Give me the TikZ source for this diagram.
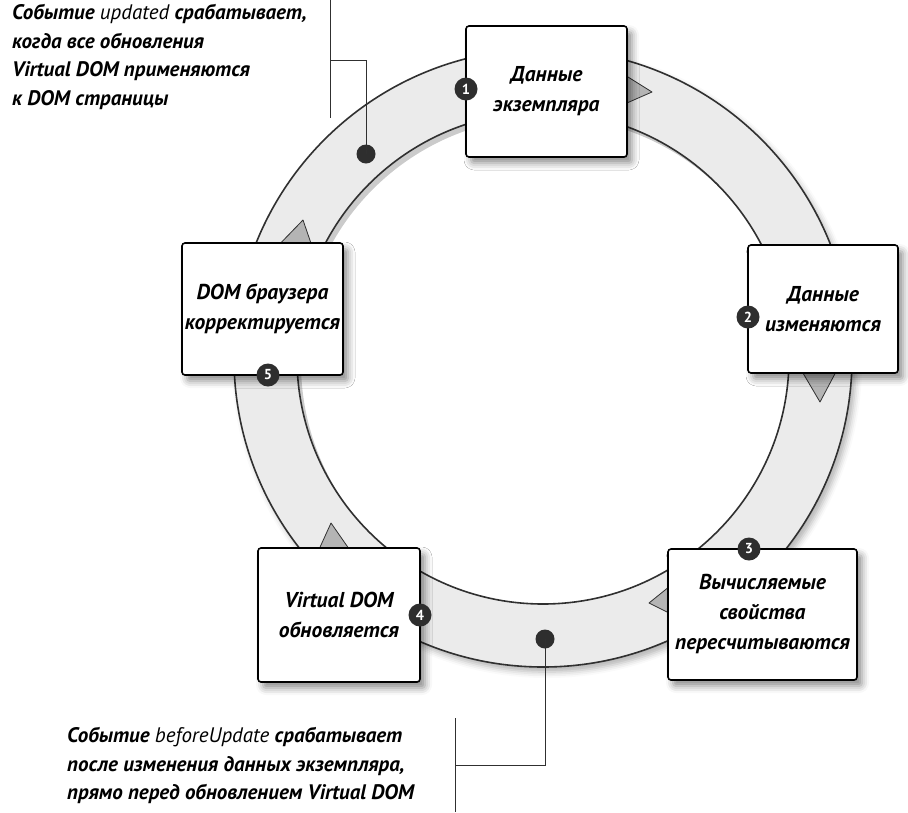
\documentclass[tikz,border=0pt]{standalone}
\usepackage{fontspec}
\setmainfont{PT Sans}
\usetikzlibrary{shadows.blur}

\definecolor{ringfill}{HTML}{EBEBEB}
\definecolor{ringline}{HTML}{303030}
\definecolor{tipfill}{HTML}{B4B4B4}
\definecolor{badgefill}{HTML}{2E2E2E}

% hook names are set lighter than the rest of a note
\newcommand{\hookword}[1]{{\mdseries\itshape #1}}

\tikzset{
  stagebox/.style={draw=black, line width=1.6pt, fill=white, rounded corners=3pt,
    align=center, inner sep=0pt,
    font=\bfseries\itshape\fontsize{21.5}{30}\selectfont,
    blur shadow={shadow xshift=5pt, shadow yshift=-6pt, shadow blur radius=7pt, shadow opacity=45}},
  badge/.style={circle, fill=badgefill, text=white, minimum size=23pt, inner sep=0pt,
    font=\bfseries\fontsize{14.5}{14.5}\selectfont},
  flowtip/.style={fill=tipfill, draw=ringline, line width=0.8pt, line join=round},
  hookdot/.style={circle, fill=badgefill, minimum size=19pt, inner sep=0pt},
  leader/.style={draw=ringline, line width=1pt},
  note/.style={align=left, anchor=north west, inner sep=0pt,
    font=\bfseries\itshape\fontsize{21}{28.5}\selectfont},
  ringshade/.style={draw=black, fill=none}
}

\begin{document}
\begin{tikzpicture}[x=1pt, y=-1pt]
\useasboundingbox (0,0) rectangle (908,812);

% lifecycle ring: body with its soft outer shadow, then the hole
\fill[ringfill, blur shadow={shadow xshift=4pt, shadow yshift=-5pt,
      shadow blur radius=6pt, shadow opacity=30}]
  (543,358) circle[radius=309pt];
\fill[white] (543,358) circle[radius=246pt];
\begin{scope}
  \clip (543,358) circle[radius=246pt];
  \draw[ringshade, opacity=0.05, line width=22pt] (547,363) circle[radius=257pt];
  \draw[ringshade, opacity=0.07, line width=14pt] (547,363) circle[radius=253pt];
  \draw[ringshade, opacity=0.09, line width=7pt] (547,363) circle[radius=249.5pt];
\end{scope}
\draw[ringline, line width=1.6pt] (543,358) circle[radius=309pt];
\draw[ringline, line width=1.6pt] (543,358) circle[radius=246pt];

% direction tips inside the ring
\draw[flowtip] (620,72) -- (652,92) -- (620,106) -- cycle;
\draw[flowtip] (800,368) -- (820,402) -- (838,368) -- cycle;
\draw[flowtip] (675,582) -- (649,603) -- (675,616) -- cycle;
\draw[flowtip] (316,556) -- (331,523) -- (354,556) -- cycle;
\draw[flowtip] (272,252) -- (303,220) -- (314,252) -- cycle;

% stages
\node[stagebox, minimum width=161pt, minimum height=131pt] (s1) at (546.5,91.5)
  {Данные\\экземпляра};
\node[stagebox, minimum width=150pt, minimum height=128pt] (s2) at (823,309)
  {Данные\\изменяются};
\node[stagebox, minimum width=189pt, minimum height=131pt] (s3) at (762.5,614.5)
  {Вычисляемые\\свойства\\пересчитываются};
\node[stagebox, minimum width=162pt, minimum height=134pt] (s4) at (339,615)
  {Virtual DOM\\обновляется};
\node[stagebox, minimum width=161pt, minimum height=132pt] (s5) at (262.5,309)
  {DOM браузера\\корректируется};

% step numbers
\node[badge] (b1) at (466,89) {1};
\node[badge] (b2) at (748,317) {2};
\node[badge] (b3) at (749,549) {3};
\node[badge] (b4) at (420,615) {4};
\node[badge] (b5) at (268,375) {5};

% hook: updated
\node[hookdot] (hu) at (366,154) {};
\coordinate (hutop) at (330,0);
\coordinate (hubot) at (330,118);
\coordinate (hujoin) at (330,60);
\coordinate (hubend) at (366,60);
\draw[leader] (hutop) -- (hubot);
\draw[leader] (hujoin) -- (hubend) -- (hu.center);
\node[note] (nu) at (12,4.5)
  {Событие \hookword{updated} срабатывает,\\когда все обновления\\Virtual DOM применяются\\к DOM страницы};

% hook: beforeUpdate
\node[hookdot] (hb) at (545,639) {};
\coordinate (hbtop) at (455,718);
\coordinate (hbbot) at (455,812);
\coordinate (hbjoin) at (455,765);
\coordinate (hbbend) at (545,765);
\draw[leader] (hbtop) -- (hbbot);
\draw[leader] (hbjoin) -- (hbbend) -- (hb.center);
\node[note] (nb) at (67,727.5)
  {Событие \hookword{beforeUpdate} срабатывает\\после изменения данных экземпляра,\\прямо перед обновлением Virtual DOM};
\end{tikzpicture}
\end{document}
